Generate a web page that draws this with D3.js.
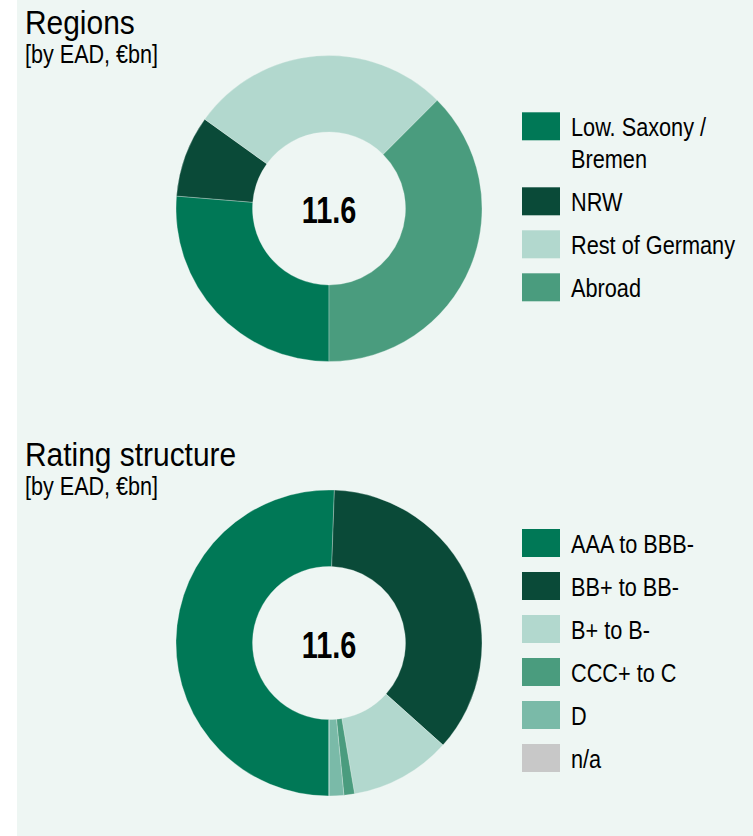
<!DOCTYPE html>
<html>
<head>
<meta charset="utf-8">
<script src="https://cdn.jsdelivr.net/npm/d3@7/dist/d3.min.js"></script>
<style>
  html, body { margin: 0; padding: 0; background: #ffffff; }
  svg { display: block; }
  text { font-family: "Liberation Sans", Arial, sans-serif; fill: #000; }
</style>
</head>
<body>
<svg id="chart" width="753" height="836"></svg>
<script>
// Regions breakdown (EAD, EUR bn)
const regionLabels = ["Low. Saxony /\nBremen", "NRW", "Rest of Germany", "Abroad"];
const regionValues = [3.05, 1.0, 3.2, 4.35];

// Rating structure breakdown (EAD, EUR bn)
const ratingLabels = ["AAA to BBB-", "BB+ to BB-", "B+ to B-", "CCC+ to C", "D", "n/a"];
const ratingValues = [5.86, 4.18, 1.24, 0.13, 0.18, 0];

const regionColors = ["#007856", "#0a4a38", "#b2d8ce", "#4a9c7e"];
const ratingColors = ["#007856", "#0a4a38", "#b2d8ce", "#4a9c7e", "#7abaa8", "#c8c8c8"];

const titles = ["Regions", "Rating structure"];
const subtitle = "[by EAD, \u20acbn]";

const W = 753, H = 836;
const BG = "#eef6f3";

const svg = d3.select("#chart");

// panel background
svg.append("rect")
  .attr("x", 17).attr("y", 0)
  .attr("width", W - 17).attr("height", H)
  .attr("fill", BG);

const pie = d3.pie().sort(null).value(d => d).startAngle(Math.PI).endAngle(3 * Math.PI);
const arc = d3.arc().innerRadius(76.5).outerRadius(153);

// condensed text: a regular face squeezed horizontally
function ctext(parent, x, y, size, sx) {
  return parent.append("text")
    .attr("transform", `translate(${x},${y}) scale(${sx},1)`)
    .attr("font-size", size);
}

function block(cfg) {
  const g = svg.append("g");

  ctext(g, 25, cfg.top + 34, 34, 0.88).text(cfg.title);
  ctext(g, 25, cfg.top + 63, 26, 0.83).text(subtitle);

  const color = d3.scaleOrdinal().domain(cfg.labels).range(cfg.colors);

  const donut = g.append("g").attr("transform", `translate(${cfg.cx},${cfg.cy})`);
  donut.selectAll("path")
    .data(pie(cfg.values))
    .join("path")
    .attr("d", arc)
    .attr("fill", (d, i) => color(cfg.labels[i]))
    .attr("stroke", BG)
    .attr("stroke-opacity", 0.5)
    .attr("stroke-width", 0.6);

  const total = d3.sum(cfg.values);
  ctext(donut, 0, 14.5, 37, 0.78)
    .attr("text-anchor", "middle")
    .attr("font-weight", "bold")
    .text(d3.format(".1f")(total));

  // legend
  const lg = g.append("g");
  let y = cfg.legendTop;
  cfg.labels.forEach((lab, i) => {
    const lines = lab.split("\n");
    lg.append("rect")
      .attr("x", 522).attr("y", y)
      .attr("width", 38).attr("height", 28)
      .attr("fill", color(lab));
    const t = ctext(lg, 571, y + 23.5, 26, 0.835);
    lines.forEach((ln, j) => {
      t.append("tspan").attr("x", 0).attr("dy", j === 0 ? 0 : 32).text(ln);
    });
    y += 43 + (lines.length - 1) * 32;
  });
}

block({ title: titles[0], top: 0, cx: 329, cy: 208.5, labels: regionLabels, values: regionValues, colors: regionColors, legendTop: 112.3 });
block({ title: titles[1], top: 432, cx: 329, cy: 643, labels: ratingLabels, values: ratingValues, colors: ratingColors, legendTop: 529 });
</script>
</body>
</html>
